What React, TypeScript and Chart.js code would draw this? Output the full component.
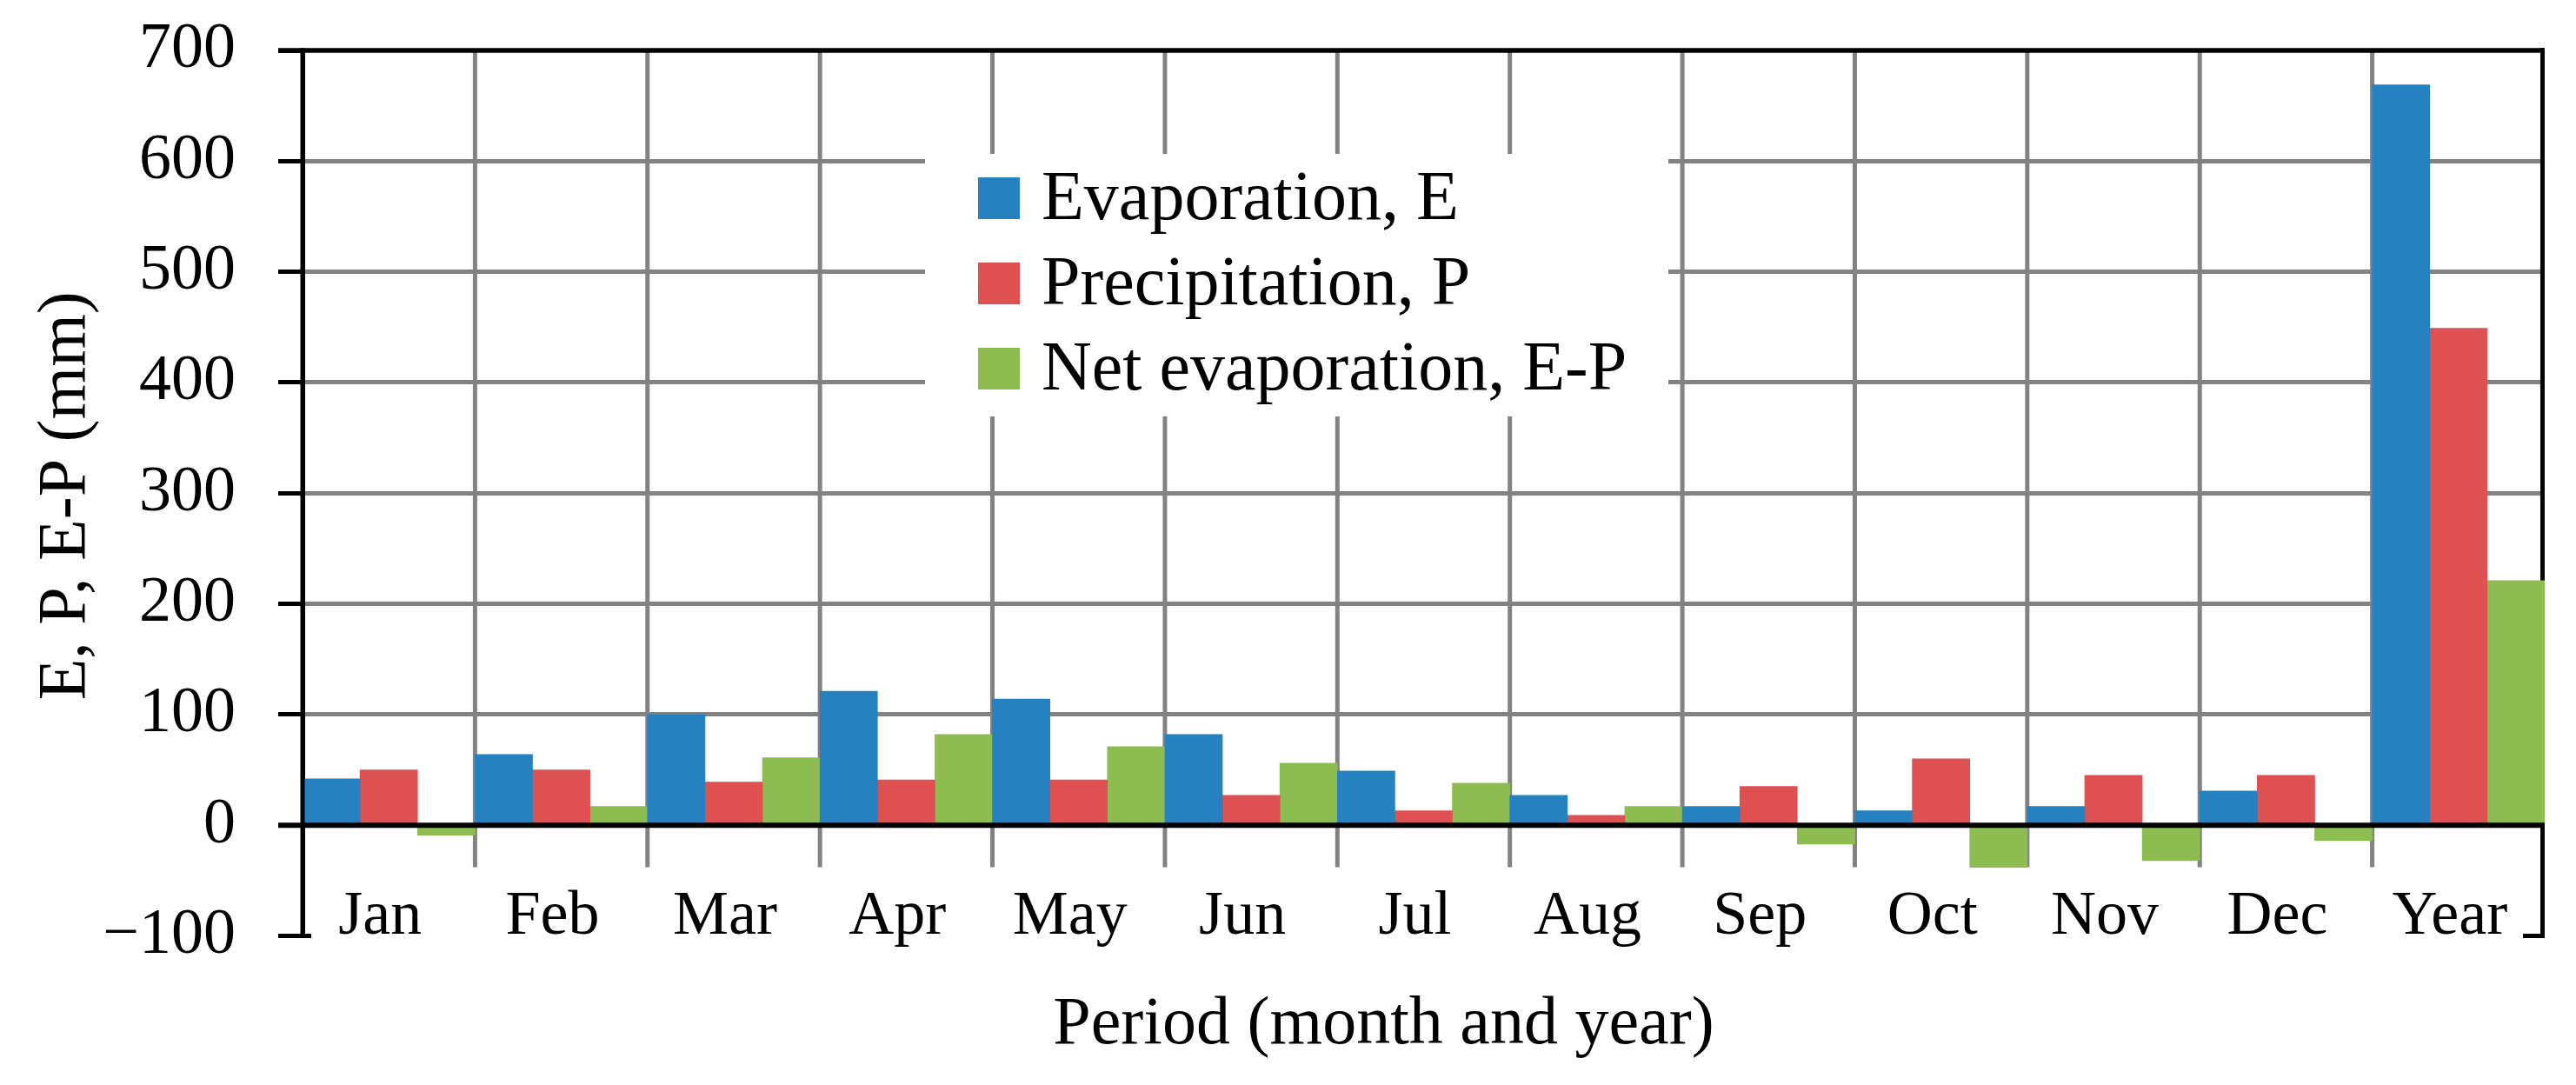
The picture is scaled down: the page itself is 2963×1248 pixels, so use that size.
import React, { useEffect, useRef } from "react";
import { Chart, registerables } from "chart.js";

Chart.register(...registerables);

const categories = ["Jan", "Feb", "Mar", "Apr", "May", "Jun", "Jul", "Aug", "Sep", "Oct", "Nov", "Dec", "Year"];
const evaporation = [42, 64, 100, 121, 114, 82, 49, 27, 17, 13, 17, 31, 669];
const precipitation = [50, 50, 39, 41, 41, 27, 13, 9, 35, 60, 45, 45, 449];
const netEvaporation = [-9, 17, 61, 82, 71, 56, 38, 17, -17, -38, -32, -14, 221];
const seriesLabels = ["Evaporation, E", "Precipitation, P", "Net evaporation, E-P"];
const seriesColors = ["#2581C0", "#DE5150", "#8DBC50"];
const yMin = -100;
const yMax = 700;
const yStep = 100;
const yTitle = "E, P, E-P (mm)";
const xTitle = "Period (month and year)";

const FONT = "'Liberation Serif', 'Times New Roman', serif";
const GRAY = "#828282";

function line(ctx: CanvasRenderingContext2D, x1: number, y1: number, x2: number, y2: number) {
  ctx.beginPath();
  ctx.moveTo(x1, y1);
  ctx.lineTo(x2, y2);
  ctx.stroke();
}

const decorPlugin = {
  id: "decor",
  beforeDatasetsDraw(chart: any) {
    const { ctx, chartArea: a, scales } = chart;
    const x = scales.x;
    const y = scales.y;
    ctx.save();
    // vertical category separators (end a little below zero)
    ctx.strokeStyle = GRAY;
    ctx.lineWidth = 5;
    const yTop = y.getPixelForValue(yMax);
    const yBot = y.getPixelForValue(-38);
    for (let i = 1; i < categories.length; i++) {
      const px = (x.getPixelForValue(i - 1) + x.getPixelForValue(i)) / 2;
      line(ctx, px, yTop, px, yBot);
    }
    // top border
    ctx.strokeStyle = "#000";
    ctx.lineWidth = 5.5;
    line(ctx, a.left - 28, yTop, a.right, yTop);
    // right border
    ctx.lineWidth = 5;
    line(ctx, a.right - 2.5, a.top - 2.75, a.right - 2.5, a.bottom + 2.5);
    ctx.restore();
  },
  afterDatasetsDraw(chart: any) {
    const { ctx, chartArea: a, scales } = chart;
    const x = scales.x;
    const y = scales.y;
    ctx.save();
    ctx.strokeStyle = "#000";
    // left axis line over bars
    ctx.lineWidth = 5;
    line(ctx, a.left, a.top - 2.75, a.left, a.bottom + 2.5);
    // zero line
    const y0 = y.getPixelForValue(0);
    ctx.lineWidth = 6;
    line(ctx, a.left - 28, y0, a.right, y0);
    // bottom corner ticks
    const yb = y.getPixelForValue(yMin);
    ctx.lineWidth = 5;
    line(ctx, a.left, yb, a.left + 10, yb);
    line(ctx, a.right - 25, yb, a.right, yb);

    // legend
    const lx = 1064, ly = 177, lw = 855, lh = 302;
    ctx.fillStyle = "#fff";
    ctx.fillRect(lx, ly, lw, lh);
    ctx.font = `80px ${FONT}`;
    ctx.textAlign = "left";
    ctx.textBaseline = "alphabetic";
    chart.data.datasets.forEach((ds: any, i: number) => {
      const cy = 228 + i * 98;
      ctx.fillStyle = ds.backgroundColor;
      ctx.fillRect(1125, cy - 24, 48, 48);
      ctx.fillStyle = "#000";
      ctx.fillText(ds.label, 1198, cy + 24);
    });

    // category labels inside plot, near the bottom
    ctx.font = `72px ${FONT}`;
    ctx.textAlign = "center";
    ctx.fillStyle = "#000";
    chart.data.labels.forEach((lab: string, i: number) => {
      ctx.fillText(lab, x.getPixelForValue(i) - 10, yb - 3);
    });

    // x title
    ctx.font = `78px ${FONT}`;
    ctx.fillText(xTitle, (a.left + a.right) / 2 - 46, 1200);

    // y title
    ctx.save();
    ctx.translate(97, (a.top + a.bottom) / 2 + 3);
    ctx.rotate(-Math.PI / 2);
    ctx.font = `78px ${FONT}`;
    ctx.textAlign = "center";
    ctx.fillText(yTitle, 0, 0);
    ctx.restore();

    ctx.restore();
  },
};

export default function App() {
  const canvasRef = useRef<HTMLCanvasElement | null>(null);

  useEffect(() => {
    if (!canvasRef.current) return;
    const seriesValues = [evaporation, precipitation, netEvaporation];
    const chart = new Chart(canvasRef.current, {
      type: "bar",
      data: {
        labels: categories,
        datasets: seriesValues.map((vals, i) => ({
          label: seriesLabels[i],
          data: vals,
          backgroundColor: seriesColors[i],
          borderWidth: 0,
          categoryPercentage: 1,
          barPercentage: 1,
        })),
      },
      options: {
        animation: false,
        responsive: true,
        maintainAspectRatio: false,
        devicePixelRatio: 1,
        layout: { padding: { left: 0, top: 58, right: 36, bottom: 0 } },
        plugins: {
          legend: { display: false },
          tooltip: { enabled: false },
          title: { display: false },
        },
        scales: {
          x: {
            type: "category",
            offset: true,
            grid: { display: false },
            border: { display: false },
            ticks: { display: false },
            afterFit: (s: any) => {
              s.height = 171.5;
              s.paddingLeft = 0;
              s.paddingRight = 0;
            },
          },
          y: {
            min: yMin,
            max: yMax,
            grid: {
              color: (c: any) => {
                const v = c.tick ? c.tick.value : null;
                if (v === yMax || v === 0 || v === yMin) return "rgba(0,0,0,0)";
                return GRAY;
              },
              lineWidth: 5,
              tickColor: "#000",
              tickWidth: 5,
              tickLength: 28,
              drawTicks: true,
            },
            border: { display: true, color: "#000", width: 5 },
            ticks: {
              stepSize: yStep,
              padding: 49,
              color: "#000",
              font: { family: FONT, size: 74 },
              callback: (v: any) => (Number(v) < 0 ? "\u2212" + Math.abs(Number(v)) : String(v)),
            },
            afterFit: (s: any) => {
              s.width = 348;
              s.paddingTop = 0;
              s.paddingBottom = 0;
            },
          },
        },
      },
      plugins: [decorPlugin],
    });
    return () => chart.destroy();
  }, []);

  return (
    <div style={{ position: "absolute", left: 0, top: 0, width: 2963, height: 1248, background: "#fff" }}>
      <canvas ref={canvasRef} />
    </div>
  );
}
